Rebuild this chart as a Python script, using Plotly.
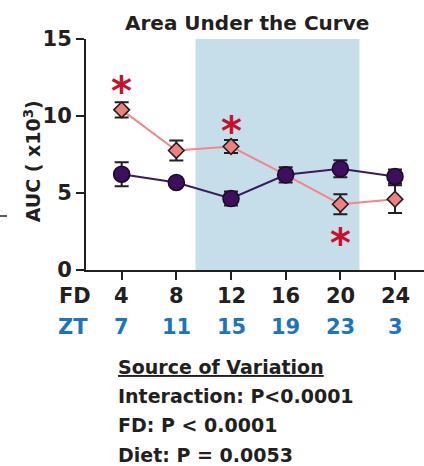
import plotly.graph_objects as go

# Feeding day (FD) and corresponding zeitgeber time (ZT)
fd_days = [4, 8, 12, 16, 20, 24]
zt_hours = ["7", "11", "15", "19", "23", "3"]

# AUC (x10^3) means and SEM per group
pink_auc = [10.4, 7.76, 8.02, 6.18, 4.27, 4.6]
pink_sem = [0.5, 0.65, 0.42, 0.3, 0.65, 0.9]
purple_auc = [6.22, 5.68, 4.64, 6.18, 6.57, 6.07]
purple_sem = [0.78, 0.2, 0.45, 0.5, 0.55, 0.45]

# Significance markers
star_fd = [4, 12, 20]
star_auc = [12.14, 9.54, 2.28]

# Dark phase window (in FD units)
dark_start, dark_end = 9.4, 21.4

stats_lines = [
    "<u>Source of Variation</u>",
    "Interaction: P<0.0001",
    "FD: P < 0.0001",
    "Diet: P = 0.0053",
]

INK = "#231F20"
FONT = "DejaVu Sans"
BLUE = "#1C75BC"
RED = "#C8102E"

fig = go.Figure()

fig.add_shape(type="rect", xref="x", yref="y", x0=dark_start, x1=dark_end,
              y0=0, y1=15, fillcolor="#C6DEEA", line_width=0, layer="below")

fig.add_trace(go.Scatter(
    x=fd_days, y=pink_auc, mode="lines+markers",
    line=dict(color="#F4858A", width=2),
    marker=dict(symbol="diamond", size=12, color="#F08080",
                line=dict(color=INK, width=1.6)),
    error_y=dict(type="data", array=pink_sem, color=INK, thickness=2, width=7),
    showlegend=False,
))

fig.add_trace(go.Scatter(
    x=fd_days, y=purple_auc, mode="lines+markers",
    line=dict(color="#3B1A5C", width=2),
    marker=dict(symbol="circle", size=16, color="#3D0F5E",
                line=dict(color="#1E0B2C", width=1.6)),
    error_y=dict(type="data", array=purple_sem, color=INK, thickness=2, width=7),
    showlegend=False,
))

annotations = []

# Significance asterisks (glyph centred on its data value)
for x, y in zip(star_fd, star_auc):
    annotations.append(dict(x=x, y=y, xref="x", yref="y", text="*", yshift=-8,
                            showarrow=False, xanchor="center", yanchor="middle",
                            font=dict(family=FONT, size=40, color=RED, weight="bold")))

# FD and ZT rows under the x axis
for x, z in zip(fd_days, zt_hours):
    annotations.append(dict(x=x, y=-0.112, xref="x", yref="paper", text=str(x),
                            showarrow=False, xanchor="center", yanchor="middle",
                            font=dict(family=FONT, size=21, color=INK, weight="bold")))
    annotations.append(dict(x=x, y=-0.245, xref="x", yref="paper", text=z,
                            showarrow=False, xanchor="center", yanchor="middle",
                            font=dict(family=FONT, size=21, color=BLUE, weight="bold")))
annotations.append(dict(x=-0.033, y=-0.112, xref="paper", yref="paper", text="FD",
                        showarrow=False, xanchor="center", yanchor="middle",
                        font=dict(family=FONT, size=21, color=INK, weight="bold")))
annotations.append(dict(x=-0.038, y=-0.245, xref="paper", yref="paper", text="ZT",
                        showarrow=False, xanchor="center", yanchor="middle",
                        font=dict(family=FONT, size=21, color=BLUE, weight="bold")))

# Y axis title
annotations.append(dict(x=-0.157, y=0.47, xref="paper", yref="paper",
                        text="AUC ( x10<sup>3</sup>)", textangle=-90,
                        showarrow=False, xanchor="center", yanchor="middle",
                        font=dict(family=FONT, size=19, color=INK, weight="bold")))

# Chart title
annotations.append(dict(x=0.476, y=1.07, xref="paper", yref="paper",
                        text="Area Under the Curve", showarrow=False,
                        xanchor="center", yanchor="middle",
                        font=dict(family=FONT, size=20, color=INK, weight="bold")))

# Two-way ANOVA summary
for i, line in enumerate(stats_lines):
    annotations.append(dict(x=0.092, y=-0.418 - i * 0.127, xref="paper", yref="paper",
                            text=line, showarrow=False, xanchor="left", yanchor="middle",
                            borderpad=0,
                            font=dict(family=FONT, size=19, color=INK, weight="bold")))

fig.add_shape(type="line", xref="paper", yref="paper",
              x0=-86 / 338, x1=-79 / 338, y0=(270 - 216) / 231, y1=(270 - 216) / 231,
              line=dict(color=INK, width=1.5))

fig.update_layout(
    width=424, height=466,
    margin=dict(l=86, r=0, t=39, b=196),
    paper_bgcolor="white", plot_bgcolor="white",
    annotations=annotations,
    xaxis=dict(range=[1.39, 26.12], showgrid=False, zeroline=False,
               showline=True, linecolor=INK, linewidth=2,
               tickvals=fd_days, ticks="outside", ticklen=8, tickwidth=2,
               tickcolor=INK, showticklabels=False),
    yaxis=dict(range=[0, 15], showgrid=False, zeroline=False,
               showline=True, linecolor=INK, linewidth=2,
               tickvals=[0, 5, 10, 15], ticks="outside", ticklen=8, tickwidth=2,
               tickcolor=INK,
               tickfont=dict(family=FONT, size=21, color=INK, weight="bold")),
)

fig.write_html("out.html")
